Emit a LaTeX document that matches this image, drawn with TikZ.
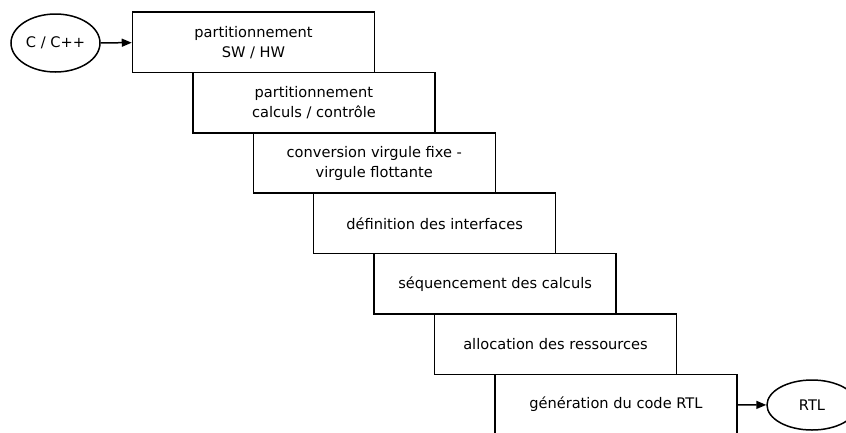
\documentclass[tikz,border=0pt]{standalone}
\usepackage{fontspec}
\setmainfont{DejaVu Sans}
\usetikzlibrary{
    arrows.meta,
    positioning,
    shapes.geometric
}
\tikzset{
  stepbox/.style = {draw, fill=white, line width=1.5pt, minimum width=242pt,
                    minimum height=60.4pt, align=center, inner sep=0pt},
  io/.style      = {draw, ellipse, line width=1.5pt, inner sep=0pt},
  arr/.style     = {-{Triangle[length=10pt, width=8pt]}, line width=1.5pt}
}

\begin{document}
\begin{tikzpicture}[x=1pt, y=-1pt,
  every node/.style={font=\fontsize{14.6}{20}\selectfont}]
  \useasboundingbox (0,0) rectangle (846,432);

  \node[io, minimum width=89pt, minimum height=58pt] (src) at (55.5,43) {C / C++};

  \node[stepbox] (hwsw)  at (253.5,42.2)  {partitionnement\\SW / HW};
  \node[stepbox] (ctrl)  at (313.9,102.6) {partitionnement\\calculs / contrôle};
  \node[stepbox] (fixe)  at (374.3,163.0) {conversion virgule fixe -\\virgule flottante};
  \node[stepbox] (itf)   at (434.7,223.4) {définition des interfaces};
  \node[stepbox] (seq)   at (495.1,283.8) {séquencement des calculs};
  \node[stepbox] (alloc) at (555.5,344.2) {allocation des ressources};
  \node[stepbox] (gen)   at (615.9,404.6) {génération du code RTL};

  \node[io, minimum width=90pt, minimum height=50pt] (rtl) at (812,405) {RTL};

  \draw[arr] (src) -- (hwsw);
  \draw[arr] (gen) -- (rtl);
\end{tikzpicture}
\end{document}
